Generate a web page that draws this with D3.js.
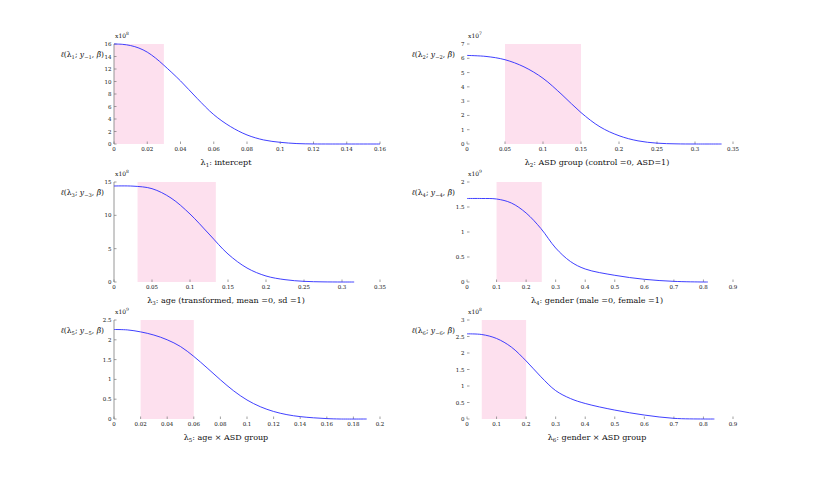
<!DOCTYPE html>
<html>
<head>
<meta charset="utf-8">
<script src="https://cdn.jsdelivr.net/npm/d3@7"></script>
<style>
  body { margin: 0; background: #fff; }
  text { font-family: "DejaVu Serif", "Liberation Serif", serif; fill: #111; }
</style>
</head>
<body>
<div id="chart"></div>
<script>
const W = 820, H = 480;

// curves (y in units of the axis multiplier)
const lam1X = [0, 0.005, 0.01, 0.015, 0.02, 0.025, 0.03, 0.04, 0.05, 0.06, 0.07, 0.08, 0.09, 0.1, 0.11, 0.12, 0.13, 0.16];
const lam1Y = [16, 15.95, 15.75, 15.35, 14.7, 13.75, 12.6, 10.1, 7.3, 4.7, 2.8, 1.45, 0.65, 0.27, 0.07, 0.01, 0, 0];

const lam2X = [0, 0.025, 0.05, 0.075, 0.1, 0.125, 0.15, 0.175, 0.2, 0.225, 0.25, 0.275, 0.3, 0.335];
const lam2Y = [6.2, 6.13, 5.9, 5.4, 4.6, 3.45, 2.2, 1.2, 0.58, 0.22, 0.06, 0.01, 0, 0];

const lam3X = [0, 0.025, 0.05, 0.075, 0.1, 0.125, 0.15, 0.175, 0.2, 0.225, 0.25, 0.275, 0.3, 0.316];
const lam3Y = [14.4, 14.38, 14.0, 12.6, 10.2, 7.2, 4.2, 2.1, 0.9, 0.35, 0.1, 0.02, 0, 0];

const lam4X = [0, 0.05, 0.1, 0.15, 0.2, 0.25, 0.3, 0.35, 0.4, 0.5, 0.6, 0.7, 0.8, 0.815];
const lam4Y = [1.67, 1.67, 1.66, 1.58, 1.38, 1.07, 0.68, 0.41, 0.26, 0.134, 0.054, 0.013, 0, 0];

const lam5X = [0, 0.01, 0.02, 0.03, 0.04, 0.05, 0.06, 0.07, 0.08, 0.09, 0.1, 0.11, 0.12, 0.13, 0.14, 0.15, 0.16, 0.17, 0.19];
const lam5Y = [2.26, 2.25, 2.2, 2.12, 2.0, 1.83, 1.58, 1.29, 0.99, 0.71, 0.48, 0.31, 0.19, 0.11, 0.06, 0.03, 0.01, 0, 0];

const lam6X = [0, 0.05, 0.1, 0.15, 0.2, 0.25, 0.3, 0.35, 0.4, 0.5, 0.6, 0.7, 0.8, 0.837];
const lam6Y = [2.58, 2.56, 2.44, 2.18, 1.76, 1.28, 0.86, 0.62, 0.47, 0.27, 0.12, 0.02, 0, 0];

// shaded lambda ranges
const shadeRanges = [[0, 0.03], [0.05, 0.15], [0.031, 0.134], [0.1, 0.253], [0.02, 0.06], [0.05, 0.2]];

// tick values
const xTicks1 = [0, 0.02, 0.04, 0.06, 0.08, 0.1, 0.12, 0.14, 0.16];
const xTicks2 = [0, 0.05, 0.1, 0.15, 0.2, 0.25, 0.3, 0.35];
const xTicks4 = [0, 0.1, 0.2, 0.3, 0.4, 0.5, 0.6, 0.7, 0.8, 0.9];
const xTicks5 = [0, 0.02, 0.04, 0.06, 0.08, 0.1, 0.12, 0.14, 0.16, 0.18, 0.2];
const yTicks1 = [0, 2, 4, 6, 8, 10, 12, 14, 16];
const yTicks2 = [0, 1, 2, 3, 4, 5, 6, 7];
const yTicks3 = [0, 5, 10, 15];
const yTicks4 = [0, 0.5, 1, 1.5, 2];
const yTicks5 = [0, 0.5, 1, 1.5, 2, 2.5];
const yTicks6 = [0, 0.5, 1, 1.5, 2, 2.5, 3];

const xLabels = ["intercept", "ASD group (control =0, ASD=1)", "age (transformed, mean =0, sd =1)",
                 "gender (male =0, female =1)", "age \u00d7 ASD group", "gender \u00d7 ASD group"];
const exponents = ["8", "7", "8", "9", "9", "8"];

// positions of each axes box
let cols = [[114, 380], [467, 733]];
let rows = [[44, 144], [182, 282], [320, 419]];

let panels = [
  {xs: lam1X, ys: lam1Y, xTicks: xTicks1, yTicks: yTicks1},
  {xs: lam2X, ys: lam2Y, xTicks: xTicks2, yTicks: yTicks2},
  {xs: lam3X, ys: lam3Y, xTicks: xTicks2, yTicks: yTicks3},
  {xs: lam4X, ys: lam4Y, xTicks: xTicks4, yTicks: yTicks4},
  {xs: lam5X, ys: lam5Y, xTicks: xTicks5, yTicks: yTicks5},
  {xs: lam6X, ys: lam6Y, xTicks: xTicks4, yTicks: yTicks6}
];

let svg = d3.select("#chart").append("svg")
  .attr("width", W)
  .attr("height", H);

panels.forEach(function(p, i) {
  let c = i % 2, r = Math.floor(i / 2);
  let x0 = cols[c][0], x1 = cols[c][1], y0 = rows[r][0], y1 = rows[r][1];
  let n = i + 1;

  let x = d3.scaleLinear()
    .domain([p.xTicks[0], p.xTicks[p.xTicks.length - 1]])
    .range([x0, x1]);
  let y = d3.scaleLinear()
    .domain([p.yTicks[0], p.yTicks[p.yTicks.length - 1]])
    .range([y1, y0]);

  let g = svg.append("g");

  // shaded interval
  let s = shadeRanges[i];
  g.append("rect")
    .attr("x", x(s[0]))
    .attr("y", y0)
    .attr("width", x(s[1]) - x(s[0]))
    .attr("height", y1 - y0)
    .attr("fill", "#fde0ee");

  // y axis line only shows on the left column
  if (c == 0) {
    g.append("line")
      .attr("x1", x0).attr("x2", x0)
      .attr("y1", y0).attr("y2", y1)
      .attr("stroke", "#8a8a8a")
      .attr("stroke-width", 0.9);
  }

  // y ticks + labels
  g.selectAll(".yt").data(p.yTicks).enter()
    .append("line")
    .attr("x1", x0).attr("x2", x0 + 2.5)
    .attr("y1", d => y(d)).attr("y2", d => y(d))
    .attr("stroke", "#777").attr("stroke-width", 0.7);
  g.selectAll(".yl").data(p.yTicks).enter()
    .append("text")
    .attr("x", x0 - 2.5)
    .attr("y", d => y(d) + 2)
    .attr("text-anchor", "end")
    .style("font-size", "5.5px")
    .text(d => String(d));

  // x ticks + labels
  g.selectAll(".xt").data(p.xTicks).enter()
    .append("line")
    .attr("x1", d => x(d)).attr("x2", d => x(d))
    .attr("y1", y1).attr("y2", y1 - 2.5)
    .attr("stroke", "#777").attr("stroke-width", 0.7);
  g.selectAll(".xl").data(p.xTicks).enter()
    .append("text")
    .attr("x", d => x(d))
    .attr("y", y1 + 6.5)
    .attr("text-anchor", "middle")
    .style("font-size", "5.5px")
    .text(d => String(d));

  // curve
  let pts = p.xs.map((v, k) => [v, p.ys[k]]);
  let line = d3.line()
    .x(d => x(d[0]))
    .y(d => y(Math.max(0, d[1])))
    .curve(d3.curveCatmullRom.alpha(0.5));
  g.append("path")
    .attr("d", line(pts))
    .attr("fill", "none")
    .attr("stroke", "#2a2aff")
    .attr("stroke-width", 0.9);

  // axis multiplier
  let ex = g.append("text")
    .attr("x", x0 + 1)
    .attr("y", y0 - 6)
    .style("font-size", "6px");
  ex.append("tspan").text("x10");
  ex.append("tspan").attr("dy", -3).style("font-size", "4.5px").text(exponents[i]);

  // y label  l(lambda_n; y_-n, beta-hat)
  let yl = g.append("text")
    .attr("x", c == 0 ? x0 - 10 : x0 - 12)
    .attr("y", y0 + 13)
    .attr("text-anchor", "end")
    .style("font-size", "7.6px");
  yl.append("tspan").style("font-style", "italic").text("\u2113");
  yl.append("tspan").text("(\u03bb");
  yl.append("tspan").attr("dy", 2).style("font-size", "5.2px").text(n);
  yl.append("tspan").attr("dy", -2).text("; ");
  yl.append("tspan").style("font-style", "italic").text("y");
  yl.append("tspan").attr("dy", 2).style("font-size", "5.2px").text("\u2212" + n);
  yl.append("tspan").attr("dy", -2).text(", ");
  yl.append("tspan").style("font-style", "italic").text("\u03b2\u0302");
  yl.append("tspan").text(")");

  // x label
  let xl = g.append("text")
    .attr("x", c == 0 ? 226 : 597)
    .attr("y", y1 + 21)
    .attr("text-anchor", "middle")
    .style("font-size", "8px");
  xl.append("tspan").text("\u03bb");
  xl.append("tspan").attr("dy", 2).style("font-size", "5.5px").text(n);
  xl.append("tspan").attr("dy", -2).text(":  " + xLabels[i]);
});
</script>
</body>
</html>
